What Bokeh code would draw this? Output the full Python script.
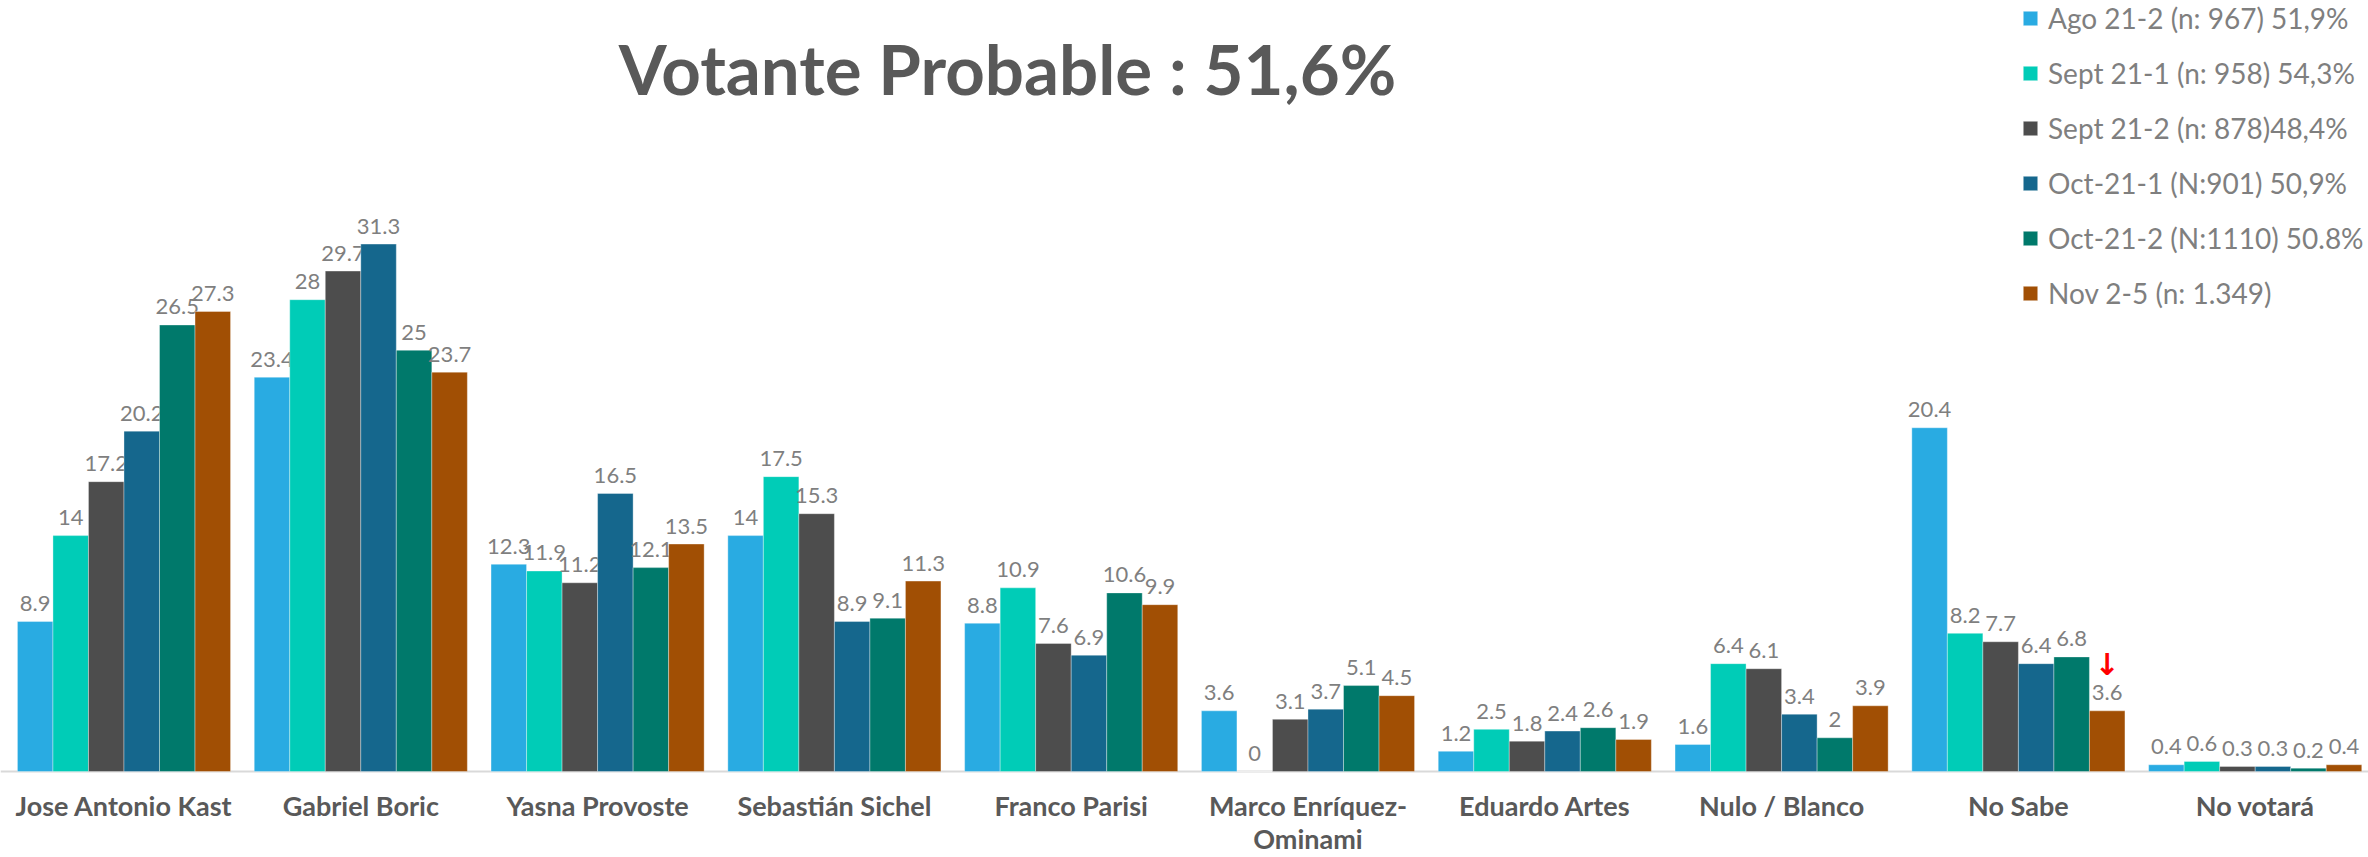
from bokeh.plotting import figure
from bokeh.models import ColumnDataSource, Legend, LegendItem, Label, Range1d, Span
from bokeh.core.properties import value
from bokeh.embed import file_html
from bokeh.resources import INLINE

categories = ["Jose Antonio Kast", "Gabriel Boric", "Yasna Provoste", "Sebastián Sichel",
              "Franco Parisi", "Marco Enríquez-\nOminami", "Eduardo Artes", "Nulo / Blanco",
              "No Sabe", "No votará"]
series_names = ["Ago 21-2 (n: 967) 51,9%", "Sept 21-1 (n: 958) 54,3%", "Sept 21-2 (n: 878)48,4%",
                "Oct-21-1 (N:901) 50,9%", "Oct-21-2 (N:1110) 50.8%", "Nov 2-5 (n: 1.349)"]
ago_21_2 = [8.9, 23.4, 12.3, 14, 8.8, 3.6, 1.2, 1.6, 20.4, 0.4]
sept_21_1 = [14, 28, 11.9, 17.5, 10.9, 0, 2.5, 6.4, 8.2, 0.6]
sept_21_2 = [17.2, 29.7, 11.2, 15.3, 7.6, 3.1, 1.8, 6.1, 7.7, 0.3]
oct_21_1 = [20.2, 31.3, 16.5, 8.9, 6.9, 3.7, 2.4, 3.4, 6.4, 0.3]
oct_21_2 = [26.5, 25, 12.1, 9.1, 10.6, 5.1, 2.6, 2, 6.8, 0.2]
nov_2_5 = [27.3, 23.7, 13.5, 11.3, 9.9, 4.5, 1.9, 3.9, 3.6, 0.4]
title_text = "Votante Probable : 51,6%"
highlight_category = 8   # "No Sabe"
highlight_series = 5     # "Nov 2-5"

series = [ago_21_2, sept_21_1, sept_21_2, oct_21_1, oct_21_2, nov_2_5]
colors = ["#29ABE2", "#00CCB7", "#4D4D4D", "#15678D", "#00796B", "#A14F04"]

FONT = "Lato"
LABEL_GREY = "#7f7f7f"
DARK_GREY = "#595959"

BAR_W = 0.15
W, H = 2368, 857

p = figure(width=W, height=H, output_backend="svg", toolbar_location=None,
           x_range=Range1d(-0.5215, 9.4785), y_range=Range1d(-5.104, 45.757),
           x_axis_location=None, y_axis_location=None,
           min_border_left=0, min_border_right=0, min_border_top=0, min_border_bottom=0)
p.outline_line_color = None
p.xgrid.grid_line_color = None
p.ygrid.grid_line_color = None

# category axis line
p.add_layout(Span(location=0, dimension="width", line_color="#d9d9d9", line_width=2,
                  level="underlay"))

legend_items = []
for j, (vals, name, col) in enumerate(zip(series, series_names, colors)):
    xs = [i + (j - 2.5) * BAR_W for i in range(len(categories))]
    texts = [("%g" % v) for v in vals]
    src = ColumnDataSource(dict(x=xs, top=vals, label=texts))
    r = p.vbar(x="x", top="top", width=BAR_W, source=src, fill_color=col,
               line_color="white", line_alpha=0.35, line_width=1)
    p.text(x="x", y="top", text="label", source=src, text_align="center",
           text_baseline="alphabetic", y_offset=-18, text_font=value(FONT),
           text_font_size="22px", text_color=LABEL_GREY)
    legend_items.append(LegendItem(label=name, renderers=[r]))

# category labels under the axis line
cat_src = ColumnDataSource(dict(x=list(range(len(categories))), y=[0] * len(categories),
                                label=categories))
p.text(x="x", y="y", text="label", source=cat_src, text_align="center", text_baseline="top",
       y_offset=18, text_font=value(FONT), text_font_style="bold", text_font_size="27px",
       text_color=DARK_GREY, text_line_height=1.0)

# red arrow over the highlighted bar
hx = highlight_category + (highlight_series - 2.5) * BAR_W
hy = series[highlight_series][highlight_category]
p.text(x=[hx], y=[hy], text=["↓"], text_align="center", text_baseline="alphabetic",
       y_offset=-46, text_color="#FF0000", text_font=value("DejaVu Sans"),
       text_font_size="30px", text_font_style="bold")

legend = Legend(items=legend_items, location=(2021, 546), glyph_width=18, glyph_height=18,
                label_height=36, spacing=19, padding=0, margin=0, label_standoff=9,
                label_text_font=FONT, label_text_font_size="28px",
                label_text_color=LABEL_GREY, border_line_color=None,
                background_fill_alpha=0)
p.add_layout(legend)

title = Label(x=1007, y=789, x_units="screen", y_units="screen", text=title_text,
              text_align="center", text_baseline="middle", text_font=FONT,
              text_font_style="bold", text_font_size="69px", text_color=DARK_GREY)
p.add_layout(title)

open("out.html", "w").write(file_html(p, INLINE))
